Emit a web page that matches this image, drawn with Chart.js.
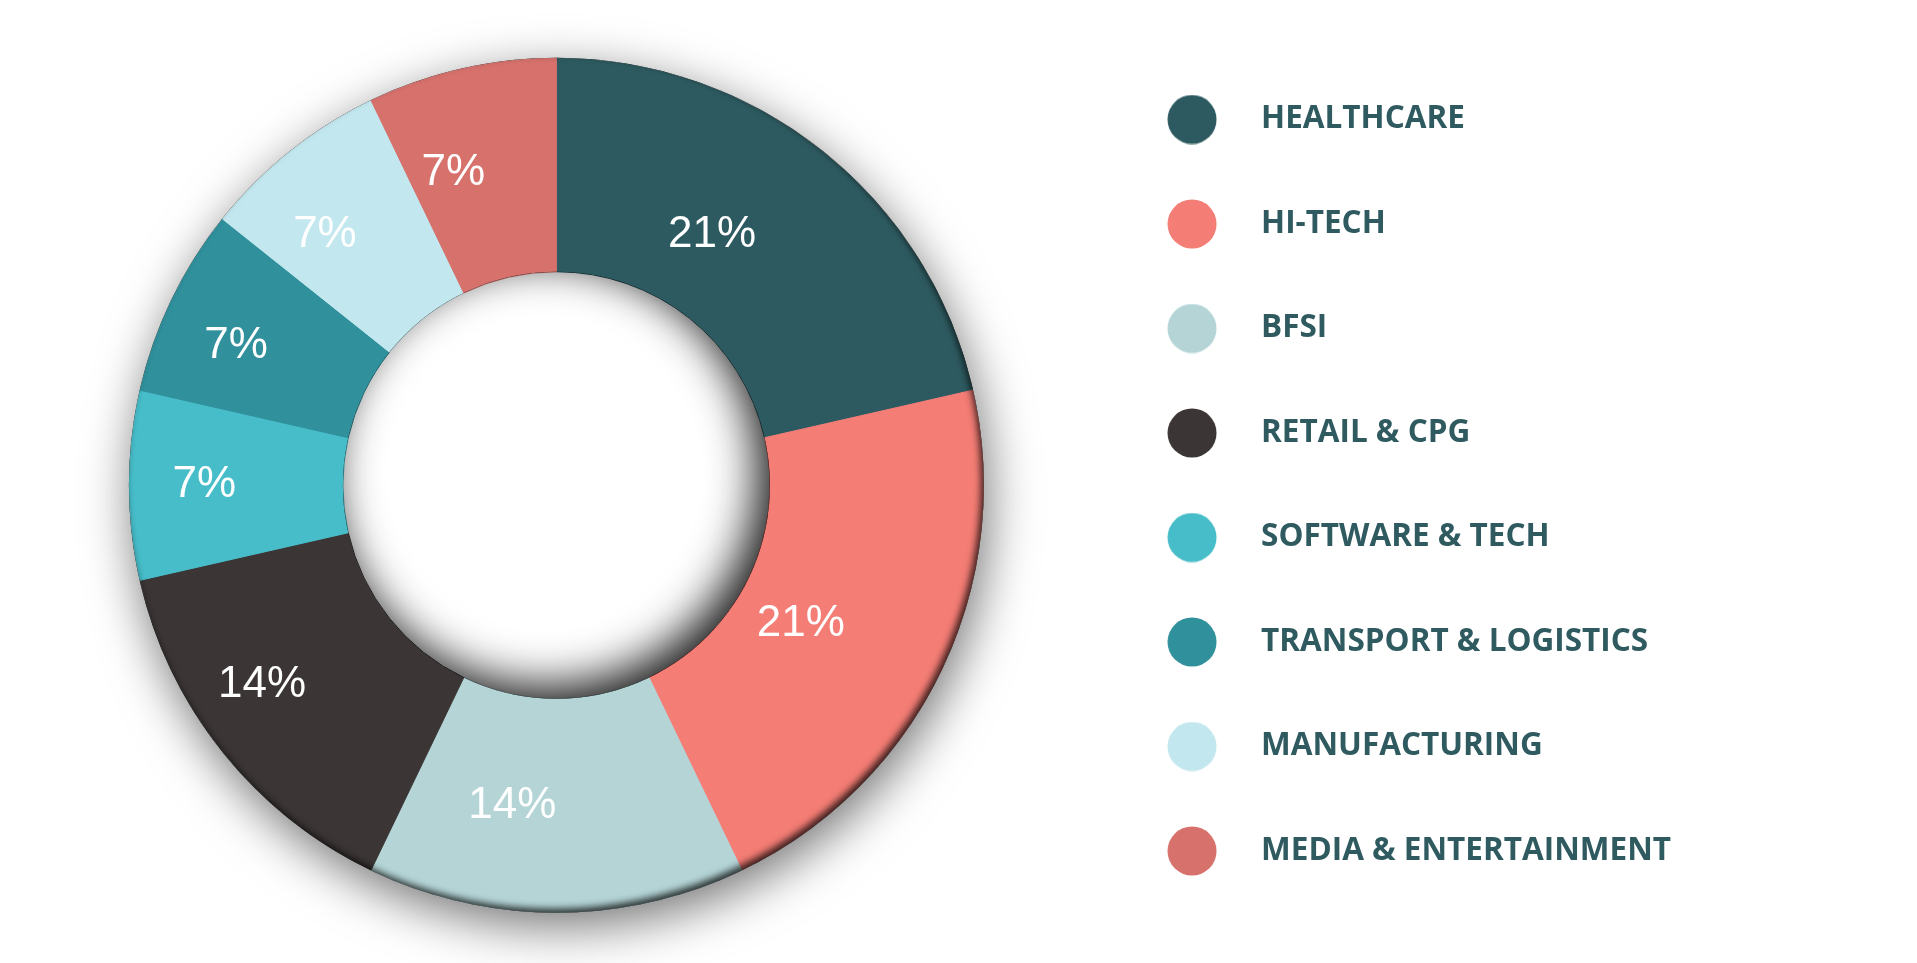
<!DOCTYPE html>
<html>
<head>
<meta charset="utf-8">
<script src="https://cdn.jsdelivr.net/npm/chart.js@4.4.1/dist/chart.umd.min.js"></script>
<style>
    html, body { margin: 0; padding: 0; background: #ffffff; }
    #wrap { width: 1917px; height: 963px; position: relative; }
</style>
</head>
<body>
<div id="wrap"><canvas id="donut-industrie"></canvas></div>
<script>
// dati del grafico
var settori = ['HEALTHCARE', 'HI-TECH', 'BFSI', 'RETAIL & CPG', 'SOFTWARE & TECH', 'TRANSPORT & LOGISTICS', 'MANUFACTURING', 'MEDIA & ENTERTAINMENT'];
var quote = [21, 21, 14, 14, 7, 7, 7, 7];
var colori = ['#2d5a60', '#f47d75', '#b4d4d6', '#3b3535', '#46bdc9', '#30909c', '#c2e7ee', '#d6716c'];
var coloreTesto = '#2e5a60';

// pallino del legend disegnato su un piccolo canvas
function pallino(colore) {
    var c = document.createElement('canvas');
    c.width = 50;
    c.height = 50;
    var g = c.getContext('2d');
    g.fillStyle = colore;
    g.beginPath();
    g.arc(25, 25, 24.5, 0, Math.PI * 2);
    g.fill();
    return c;
}

// ombre: sotto l'anello, bordo esterno e foro centrale
var ombre = {
    id: 'ombre',
    beforeDatasetsDraw: function (chart) {
        var arc = chart.getDatasetMeta(0).data[0];
        if (!arc) return;
        var ctx = chart.ctx;
        ctx.save();
        ctx.shadowColor = 'rgba(0,0,0,0.55)';
        ctx.shadowBlur = 50;
        ctx.shadowOffsetX = 4;
        ctx.shadowOffsetY = 14;
        ctx.fillStyle = '#ffffff';
        ctx.beginPath();
        ctx.arc(arc.x, arc.y, arc.outerRadius, 0, Math.PI * 2);
        ctx.fill();
        ctx.restore();
    },
    afterDatasetsDraw: function (chart) {
        var meta = chart.getDatasetMeta(0);
        var arc = meta.data[0];
        if (!arc) return;
        var ctx = chart.ctx;
        var W = chart.width, H = chart.height;

        // bordo scuro sul lato esterno
        ctx.save();
        ctx.beginPath();
        ctx.arc(arc.x, arc.y, arc.outerRadius + 0.5, 0, Math.PI * 2);
        ctx.clip();
        ctx.beginPath();
        ctx.rect(-W, -H, W * 3, H * 3);
        ctx.arc(arc.x, arc.y, arc.outerRadius + 0.5, 0, Math.PI * 2, true);
        ctx.shadowColor = 'rgba(0,0,0,0.75)';
        ctx.shadowBlur = 7;
        ctx.shadowOffsetX = -3;
        ctx.shadowOffsetY = -4;
        ctx.fillStyle = '#000';
        ctx.fill();
        ctx.restore();

        // ombra interna del foro
        ctx.save();
        ctx.beginPath();
        ctx.arc(arc.x, arc.y, arc.innerRadius, 0, Math.PI * 2);
        ctx.clip();
        ctx.beginPath();
        ctx.rect(-W, -H, W * 3, H * 3);
        ctx.arc(arc.x, arc.y, arc.innerRadius, 0, Math.PI * 2, true);
        ctx.shadowColor = 'rgba(0,0,0,0.9)';
        ctx.shadowBlur = 45;
        ctx.shadowOffsetX = -12;
        ctx.shadowOffsetY = -12;
        ctx.fillStyle = '#000';
        ctx.fill();
        ctx.restore();

        // percentuali sulle fette
        ctx.save();
        ctx.fillStyle = '#ffffff';
        ctx.font = '44px "Liberation Sans", Arial, sans-serif';
        ctx.textAlign = 'right';
        ctx.textBaseline = 'middle';
        meta.data.forEach(function (el, i) {
            var p = el.tooltipPosition(true);
            ctx.fillText(quote[i] + '%', p.x, p.y);
        });
        ctx.restore();
    }
};

function DonutIndustrie() {
    var ctx = document.getElementById('donut-industrie');
    var chart = new Chart(ctx, {
        type: 'doughnut',
        data: {
            labels: settori,
            datasets: [{
                data: quote,
                backgroundColor: colori,
                borderColor: colori,
                borderWidth: 1,
                hoverOffset: 0
            }]
        },
        options: {
            responsive: true,
            maintainAspectRatio: false,
            animation: false,
            radius: 427,
            cutout: '50%',
            layout: {
                padding: { left: 47, right: 236, top: 7.5, bottom: 0 }
            },
            plugins: {
                tooltip: { enabled: false },
                legend: {
                    position: 'right',
                    align: 'center',
                    labels: {
                        usePointStyle: true,
                        pointStyleWidth: 106.5,
                        padding: 73,
                        color: coloreTesto,
                        font: { family: '"Open Sans", sans-serif', size: 31.5, weight: 'bold' },
                        generateLabels: function (chart) {
                            return chart.data.labels.map(function (label, i) {
                                return {
                                    text: label,
                                    fillStyle: colori[i],
                                    strokeStyle: colori[i],
                                    lineWidth: 0,
                                    fontColor: coloreTesto,
                                    pointStyle: pallino(colori[i]),
                                    hidden: false,
                                    index: i
                                };
                            });
                        }
                    }
                }
            }
        },
        plugins: [ombre]
    });
}

DonutIndustrie();
</script>
</body>
</html>
